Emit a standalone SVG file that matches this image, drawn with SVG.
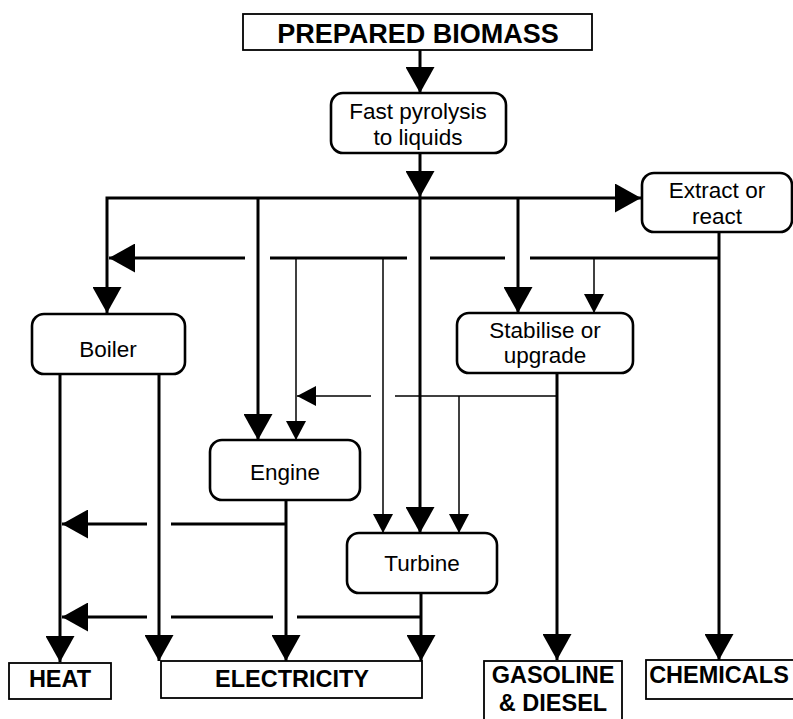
<svg xmlns="http://www.w3.org/2000/svg" width="793" height="719" viewBox="0 0 793 719">
<style>
.node{fill:#fff;stroke:#000;stroke-width:2.6}
.out{fill:#fff;stroke:#000;stroke-width:1.8}
.lbl{font-family:"Liberation Sans",Arial,sans-serif;font-size:22.5px;fill:#000;text-anchor:middle}
.olbl{font-family:"Liberation Sans",Arial,sans-serif;font-size:23.5px;font-weight:bold;fill:#000;text-anchor:middle}
.thick{fill:none;stroke:#000;stroke-width:3}
.thin{fill:none;stroke:#000;stroke-width:1.5}
.big{marker-end:url(#big)}
.small{marker-end:url(#small)}
</style>
<defs>
<marker id="big" markerUnits="userSpaceOnUse" viewBox="0 0 26 29" markerWidth="26" markerHeight="29" refX="26" refY="14.5" orient="auto"><path d="M0,0 L26,14.5 L0,29 Z" fill="#000"/></marker>
<marker id="small" markerUnits="userSpaceOnUse" viewBox="0 0 19 20" markerWidth="19" markerHeight="20" refX="19" refY="10" orient="auto"><path d="M0,0 L19,10 L0,20 Z" fill="#000"/></marker>
</defs>
<rect width="793" height="719" fill="#fff"/>
<g id="connectors">
<path class="thick big" d="M420,50 V93"/>
<path class="thick big" d="M420,153 V197"/>
<path class="thick big" d="M420,197 V533"/>
<path class="thick big" d="M420,198 H641"/>
<path class="thick big" d="M420,198 H107 V313"/>
<path class="thick big" d="M258,198 V440"/>
<path class="thick big" d="M518,198 V313"/>
<path class="thick big" d="M719,232 V660"/>
<path class="thick" d="M719,258 H530 M505,258 H430 M407,258 H270"/>
<path class="thick big" d="M245,258 H109"/>
<path class="thick big" d="M60,374 V662"/>
<path class="thick big" d="M159,374 V661"/>
<path class="thick" d="M286,524 H171"/>
<path class="thick big" d="M147,524 H62"/>
<path class="thick big" d="M286,500 V661"/>
<path class="thick big" d="M421,593 V661"/>
<path class="thick" d="M421,617 H297 M273,617 H171"/>
<path class="thick big" d="M147,617 H62"/>
<path class="thick big" d="M557,373 V660"/>
<path class="thin small" d="M296,258 V440"/>
<path class="thin small" d="M383,258 V533"/>
<path class="thin small" d="M594,258 V313"/>
<path class="thin" d="M557,396 H395"/>
<path class="thin small" d="M371,396 H297"/>
<path class="thin small" d="M459,396 V533"/>
</g>
<g id="prepared-biomass">
<rect class="out" x="243" y="14" width="349" height="36"/>
<text class="olbl" x="418" y="43" style="font-size:27px">PREPARED BIOMASS</text>
</g>
<g id="fast-pyrolysis">
<rect class="node" x="331" y="93" width="175" height="60" rx="12"/>
<text class="lbl" x="418" y="119">Fast pyrolysis</text>
<text class="lbl" x="418" y="145">to liquids</text>
</g>
<g id="extract">
<rect class="node" x="642" y="173" width="150" height="59" rx="12"/>
<text class="lbl" x="717" y="198">Extract or</text>
<text class="lbl" x="717" y="224">react</text>
</g>
<g id="boiler">
<rect class="node" x="32" y="314" width="153" height="60" rx="12"/>
<text class="lbl" x="108" y="357">Boiler</text>
</g>
<g id="stabilise">
<rect class="node" x="457" y="313" width="176" height="60" rx="12"/>
<text class="lbl" x="545" y="338">Stabilise or</text>
<text class="lbl" x="545" y="363">upgrade</text>
</g>
<g id="engine">
<rect class="node" x="210" y="440" width="150" height="60" rx="12"/>
<text class="lbl" x="285" y="480">Engine</text>
</g>
<g id="turbine">
<rect class="node" x="347" y="533" width="150" height="60" rx="12"/>
<text class="lbl" x="422" y="571">Turbine</text>
</g>
<g id="heat">
<rect class="out" x="9" y="663" width="102" height="36"/>
<text class="olbl" x="60" y="687">HEAT</text>
</g>
<g id="electricity">
<rect class="out" x="161" y="661" width="261" height="37"/>
<text class="olbl" x="292" y="687">ELECTRICITY</text>
</g>
<g id="gasoline">
<rect class="out" x="484" y="661" width="138" height="64"/>
<text class="olbl" x="553" y="683">GASOLINE</text>
<text class="olbl" x="553" y="711">&amp; DIESEL</text>
</g>
<g id="chemicals">
<rect class="out" x="646" y="660" width="160" height="39"/>
<text class="olbl" x="719" y="683">CHEMICALS</text>
</g>
</svg>
